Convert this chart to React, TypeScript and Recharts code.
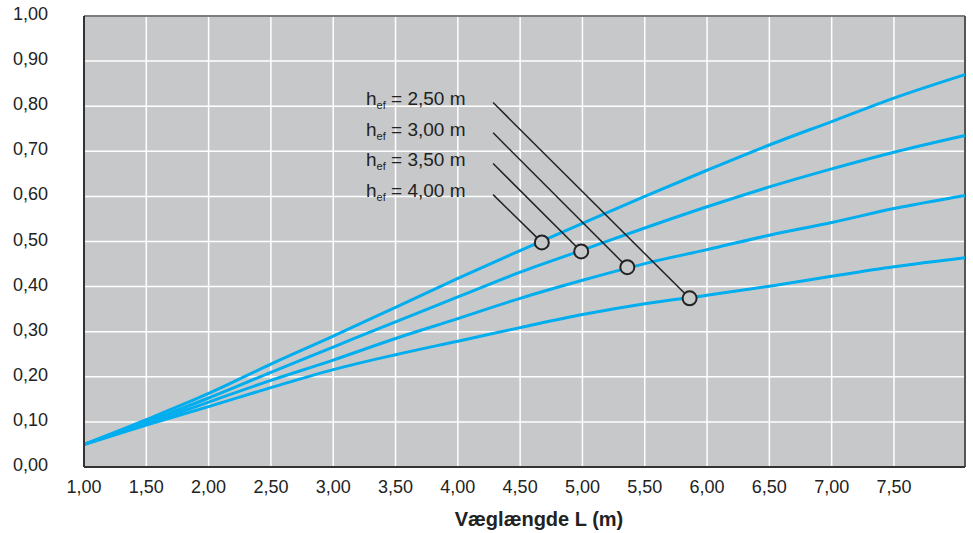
import {
  CartesianGrid,
  Line,
  LineChart,
  ReferenceDot,
  ReferenceLine,
  XAxis,
  YAxis,
} from "recharts";

// wall length L (m)
const lengths = [1.0, 1.5, 2.0, 2.5, 3.0, 3.5, 4.0, 4.5, 5.0, 5.5, 6.0, 6.5, 7.0, 7.5, 8.07];

// curves per effective height h_ef
const hef400 = [0.05, 0.105, 0.163, 0.228, 0.29, 0.354, 0.418, 0.48, 0.54, 0.6, 0.658, 0.714, 0.766, 0.818, 0.87];
const hef350 = [0.05, 0.1, 0.153, 0.21, 0.266, 0.322, 0.377, 0.432, 0.481, 0.53, 0.577, 0.621, 0.661, 0.698, 0.735];
const hef300 = [0.05, 0.095, 0.144, 0.192, 0.237, 0.285, 0.329, 0.374, 0.414, 0.451, 0.482, 0.514, 0.542, 0.573, 0.602];
const hef250 = [0.05, 0.093, 0.134, 0.176, 0.216, 0.249, 0.279, 0.309, 0.338, 0.362, 0.381, 0.401, 0.423, 0.444, 0.464];

const xTicks = [1.0, 1.5, 2.0, 2.5, 3.0, 3.5, 4.0, 4.5, 5.0, 5.5, 6.0, 6.5, 7.0, 7.5];
const yTicks = [0, 0.1, 0.2, 0.3, 0.4, 0.5, 0.6, 0.7, 0.8, 0.9, 1.0];

// annotations: label text, leader start, marker on curve
const labelTexts = ["2,50", "3,00", "3,50", "4,00"];
const leaderStartX = 4.283;
const leaderStartY = [0.808, 0.741, 0.673, 0.604];
const markerX = [5.86, 5.36, 4.99, 4.674];
const markerY = [0.374, 0.443, 0.478, 0.498];

const data = lengths.map((L, i) => ({
  L,
  a: hef400[i],
  b: hef350[i],
  c: hef300[i],
  d: hef250[i],
}));

const BLUE = "#00aeef";
const FONT = "'Liberation Sans', Arial, Helvetica, sans-serif";
const fmt = (v: number) => v.toFixed(2).replace(".", ",");

const XTick = (props: any) => (
  <text x={props.x} y={493} textAnchor="middle" fontSize={18} fill="#222" fontFamily={FONT}>
    {fmt(props.payload.value)}
  </text>
);

const YTick = (props: any) => (
  <text x={48} y={props.y + 4} textAnchor="end" fontSize={18} fill="#222" fontFamily={FONT}>
    {fmt(props.payload.value)}
  </text>
);

export default function App() {
  return (
    <div style={{ position: "absolute", left: 0, top: 0, width: 973, height: 533, background: "#fff" }}>
      <LineChart
        width={973}
        height={533}
        data={data}
        margin={{ top: 16, right: 8, bottom: 0, left: 0 }}
      >
        <CartesianGrid stroke="#ffffff" strokeWidth={1.5} fill="#c7c8ca" fillOpacity={1} />
        <XAxis
          dataKey="L"
          type="number"
          domain={[1, 8.07]}
          ticks={xTicks}
          height={66}
          tickLine={false}
          axisLine={{ stroke: "#333", strokeWidth: 2 }}
          tick={XTick}
          interval={0}
        />
        <YAxis
          type="number"
          domain={[0, 1]}
          ticks={yTicks}
          width={84}
          tickLine={false}
          axisLine={{ stroke: "#333", strokeWidth: 2 }}
          tick={YTick}
          interval={0}
        />
        <ReferenceLine y={1} stroke="#555" strokeWidth={1.5} />
        <ReferenceLine x={8.07} stroke="#555" strokeWidth={2} />
        <Line type="monotone" dataKey="a" stroke={BLUE} strokeWidth={3} dot={false} isAnimationActive={false} />
        <Line type="monotone" dataKey="b" stroke={BLUE} strokeWidth={3} dot={false} isAnimationActive={false} />
        <Line type="monotone" dataKey="c" stroke={BLUE} strokeWidth={3} dot={false} isAnimationActive={false} />
        <Line type="monotone" dataKey="d" stroke={BLUE} strokeWidth={3} dot={false} isAnimationActive={false} />
        {leaderStartY.map((y0, i) => (
          <ReferenceLine
            key={`leader-${i}`}
            segment={[
              { x: leaderStartX, y: y0 },
              { x: markerX[i], y: markerY[i] },
            ]}
            stroke="#222"
            strokeWidth={1.5}
          />
        ))}
        {markerX.map((mx, i) => (
          <ReferenceDot
            key={`dot-${i}`}
            x={mx}
            y={markerY[i]}
            r={7}
            fill="#c7c8ca"
            stroke="#222"
            strokeWidth={2}
          />
        ))}
      </LineChart>
      <svg
        width={973}
        height={533}
        style={{ position: "absolute", left: 0, top: 0, pointerEvents: "none" }}
      >
        {labelTexts.map((t, i) => (
          <text key={t} x={366} y={105 + i * 30.5} fontSize={19} fill="#222" fontFamily={FONT}>
            h
            <tspan fontSize={11} dy={4}>ef</tspan>
            <tspan dy={-4}>{` = ${t} m`}</tspan>
          </text>
        ))}
        <text x={539} y={526} textAnchor="middle" fontSize={20} fontWeight="bold" fill="#222" fontFamily={FONT}>
          Væglængde L (m)
        </text>
      </svg>
    </div>
  );
}
